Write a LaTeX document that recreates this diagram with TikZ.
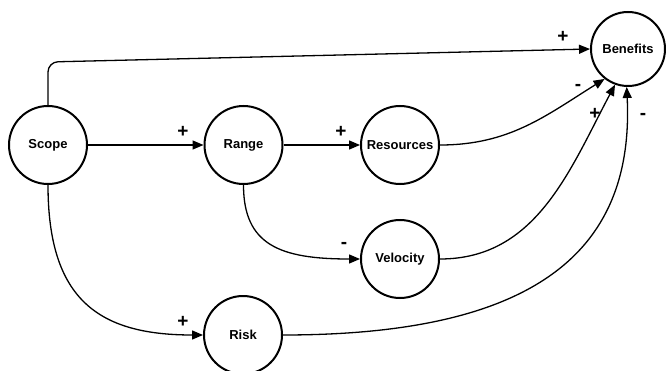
\documentclass[tikz,border=0pt]{standalone}
\usepackage{fontspec}
\setmainfont{Liberation Sans}
\usetikzlibrary{arrows.meta}
\begin{document}
\begin{tikzpicture}[x=1pt,y=1pt,
  var/.style={circle,draw,line width=2pt,minimum size=78pt,inner sep=0pt,font=\bfseries\fontsize{13}{15}\selectfont},
  link/.style={line width=1.3pt,-{Triangle[length=11pt,width=9pt]}},
  sign/.style={font=\bfseries\fontsize{19}{21}\selectfont,inner sep=0pt}]
\useasboundingbox (0,0) rectangle (666,370);
\node[var] (scope) at (48,225) {Scope};
\node[var] (range) at (243.5,225) {Range};
\node[var] (res) at (400,225) {Resources};
\node[var,minimum size=74pt] (ben) at (628,321) {Benefits};
\node[var] (vel) at (400,111) {Velocity};
\node[var] (risk) at (243,35) {Risk};
\coordinate (sbc) at (48,308);
\draw[link,rounded corners=10pt] (scope.north) -- (sbc) -- (ben.west);
\draw[link] (scope) -- (range);
\draw[link] (range) -- (res);
\draw[link] (res.east) to[out=0,in=212] (ben.232);
\draw[link] (vel.east) to[out=0,in=242] (ben.250);
\draw[link] (risk.east) .. controls +(247,0) and +(8,-168) .. (ben.268);
\draw[link] (range.south) .. controls +(0,-60) and +(-80,0) .. (vel.west);
\draw[link] (scope.south) .. controls +(0,-115) and +(-104,0) .. (risk.west);
\node[sign] (s1) at (563,333) {+};
\node[sign] (s2) at (183,238) {+};
\node[sign] (s3) at (341,238) {+};
\node[sign] (s4) at (578,283) {-};
\node[sign] (s5) at (595,256) {+};
\node[sign] (s6) at (643,254) {-};
\node[sign] (s7) at (344,125) {-};
\node[sign] (s8) at (183,48) {+};
\end{tikzpicture}
\end{document}
